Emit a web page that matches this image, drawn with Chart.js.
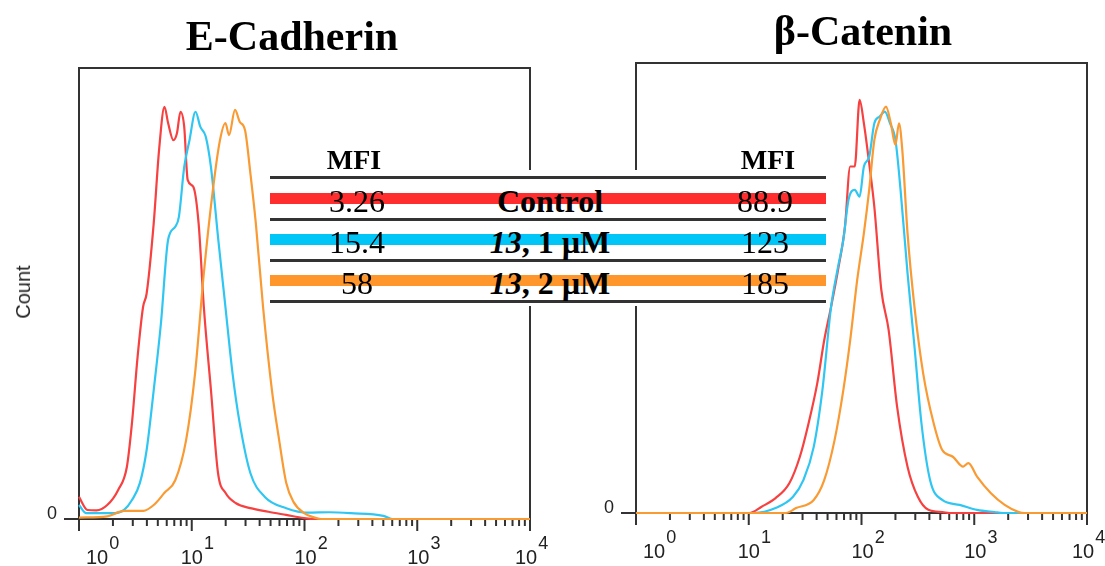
<!DOCTYPE html>
<html><head><meta charset="utf-8">
<script src="https://cdn.jsdelivr.net/npm/chart.js@4.4.1/dist/chart.umd.min.js"></script>
<style>
html,body{margin:0;padding:0;background:#fff;}
body{width:1105px;height:566px;position:relative;overflow:hidden;}
canvas{position:absolute;left:0;top:0;}
.t{position:absolute;white-space:nowrap;line-height:1;color:#000;}
.sans{font-family:"Liberation Sans",Arial,sans-serif;color:#222;}
.serif{font-family:"Liberation Serif","Times New Roman",serif;}
</style></head><body>
<canvas id="c1" width="1105" height="566"></canvas>
<canvas id="c2" width="1105" height="566"></canvas>
<div id="overlay"></div>
<script>
// ---------------- data ----------------
const panelTitles = ["E-Cadherin", "β-Catenin"];
const seriesNames = ["Control", "13, 1 µM", "13, 2 µM"];
const ecadMFI = ["3.26", "15.4", "58"];
const bcatMFI = ["88.9", "123", "185"];
const tickExponents = [0, 1, 2, 3, 4];
const yTickLabel = "0";
const yAxisTitle = "Count";

// E-Cadherin histograms (fluorescence, % of max count)
const ecadControlX = [1,1.19,1.43,1.78,2.22,2.66,2.95,3.31,3.70,3.98,4.60,5.13,5.73,6.17,6.87,7.40,7.94,8.57,9.20,10.3,11.5,12.8,14.8,17.1,19.9,24.7,33.1,47.8,68.7,99.1,126,10000];
const ecadControlY = [4.9,2.0,1.9,3.1,6.4,11.6,21.3,36,47,50,65.6,81.8,91.4,87.8,84,85.6,90.3,87,75.2,73.7,65.6,47,28.6,10.2,5.8,3.5,2.4,1.6,0.9,0.2,0,0];
const ecad1uMX = [1,1.16,1.55,2.09,2.51,2.95,3.47,3.98,4.60,5.33,6.17,7.14,7.69,8.57,9.55,10.8,11.9,13.3,14.8,17.2,19.9,23.0,26.6,33.1,44.5,68.9,107,166,257,501,600,10000];
const ecad1uMY = [3.1,1.3,1.3,1.3,2.0,4.2,8,15.3,28.6,43.4,61.9,64.8,67,78,84,90.3,87,84.8,78,61.9,47,32.3,21.3,10.2,4.9,2.4,1.4,1.5,1.3,0.7,0,0];
const ecad2uMX = [1,1.78,2.51,3.72,4.60,5.73,7.14,8.91,10.7,12.8,15.4,17.8,19.9,21.4,24.2,26.6,29.7,33.1,37.0,42.9,51.4,59.6,68.9,79.8,99.3,123,140,10000];
const ecad2uMY = [0.3,0.6,1.8,1.8,3.1,5.8,8.6,17.5,32.3,54.5,73,84,87.8,85.1,90.7,88.1,86.2,76.7,65.6,47,28.6,17.5,8,3.8,1.3,0.3,0,0];

// beta-Catenin histograms
const bcatControlX = [1,10.1,13.0,17.3,22.9,28.4,33.9,40.5,46.7,53.7,61.9,71.3,79.4,87.1,96.2,105,117,130,150,174,207,256,316,392,525,600,10000];
const bcatControlY = [0,0,1.4,3.3,6.6,12.5,19.9,28.8,38.4,45.8,54,63.6,77,77,91.8,86.6,77.7,68,49.5,40.7,23.6,10.3,3.6,0.7,0.2,0,0];
const bcat1uMX = [1,11.0,17.3,24.7,30.5,37.7,45.0,53.7,61.9,69.0,76.7,87.1,96.2,105,117,130,145,161,179,200,222,256,295,340,406,520,743,1059,1514,1800,10000];
const bcat1uMY = [0,0,1.1,3.6,7.3,14.7,27.3,45.8,54.7,60.7,69.6,71.8,70.3,77,79.2,86.6,88.1,89.2,86.6,82.9,71.8,53.3,37,20,7.3,2.9,1.8,0.7,0.2,0,0];
const bcat2uMX = [1,21.4,26.3,37.7,46.7,57.7,69.0,79.4,91.6,105,117,130,145,165,182,200,215,230,256,295,352,436,520,646,798,887,1059,1406,1862,2483,2800,10000];
const bcat2uMY = [0,0,1.1,2.9,7.3,16.2,27.3,38.4,51.8,62.2,71.8,82.9,87.3,90.3,86.6,81.8,86.6,80.7,62.2,45.8,31.1,20,14,12.5,10.3,11.1,8.1,4.4,1.8,0.2,0,0];

const curveColors = ["#f74040", "#30c6f2", "#f99a33"];
const barColors = ["#ff2d2d", "#00c6f7", "#ff962c"];

// ---------------- helpers ----------------
const W = 1105, H = 566;
const overlay = document.getElementById('overlay');
function pts(xs, ys){ return xs.map((x,i)=>({x:x, y:ys[i]})); }
function addText(html, cx, baseline, cls, size, extra){
  const d = document.createElement('div');
  d.className = 't ' + cls;
  d.innerHTML = html;
  const k = cls.indexOf('serif') >= 0 && cls.indexOf('sans') < 0 ? 0.8375 : 0.8465;
  d.style.fontSize = size + 'px';
  d.style.top = (baseline - k*size) + 'px';
  d.style.left = cx + 'px';
  d.style.transform = 'translateX(-50%)';
  if (extra) Object.assign(d.style, extra);
  overlay.appendChild(d);
  return d;
}

const framePlugin = {
  id: 'flowFrame',
  beforeDatasetsDraw(chart){
    const {ctx, chartArea:a} = chart;
    const xs = chart.scales.x;
    ctx.save();
    ctx.strokeStyle = '#333';
    ctx.lineWidth = 2;
    ctx.strokeRect(a.left, a.top, a.right - a.left, a.bottom - a.top);
    ctx.beginPath();
    ctx.moveTo(a.left - 15, a.bottom);
    ctx.lineTo(a.right, a.bottom);
    for (let k = 0; k < 4; k++){
      for (let m = 1; m <= 9; m++){
        const x = xs.getPixelForValue(m*Math.pow(10,k));
        const len = m === 1 ? 12 : 7;
        ctx.moveTo(x, a.bottom); ctx.lineTo(x, a.bottom + len);
      }
    }
    const xe = xs.getPixelForValue(10000);
    ctx.moveTo(xe, a.bottom); ctx.lineTo(xe, a.bottom + 12);
    ctx.stroke();
    ctx.restore();
  }
};

function makePanel(id, area, series){
  return new Chart(document.getElementById(id), {
    type: 'line',
    data: {
      datasets: series.map((s,i)=>({
        label: seriesNames[i],
        data: s,
        borderColor: curveColors[i],
        borderWidth: 2.2,
        pointRadius: 0,
        fill: false,
        cubicInterpolationMode: 'monotone',
        clip: 4,
        order: 2 - i
      }))
    },
    options: {
      responsive: false,
      animation: false,
      devicePixelRatio: 1,
      layout: { padding: { left: area.l, top: area.t, right: W - area.r, bottom: H - area.b } },
      plugins: { legend: { display: false }, tooltip: { enabled: false } },
      scales: {
        x: { type: 'logarithmic', min: 1, max: 10000, display: false },
        y: { type: 'linear', min: 0, max: 100, display: false }
      }
    },
    plugins: [framePlugin]
  });
}

const left = makePanel('c1', {l:79, t:68, r:530, b:519},
  [pts(ecadControlX, ecadControlY), pts(ecad1uMX, ecad1uMY), pts(ecad2uMX, ecad2uMY)]);
const right = makePanel('c2', {l:636, t:63, r:1087, b:513},
  [pts(bcatControlX, bcatControlY), pts(bcat1uMX, bcat1uMY), pts(bcat2uMX, bcat2uMY)]);

// axis labels
const labelShift = [18, 0, 1, 1, -4];
[left, right].forEach((ch, p)=>{
  const xs = ch.scales.x, ys = ch.scales.y, a = ch.chartArea;
  tickExponents.forEach((e, i)=>{
    const cx = xs.getPixelForValue(Math.pow(10, e)) + labelShift[i];
    const d = document.createElement('div');
    d.className = 't sans';
    d.style.fontSize = '20px';
    d.style.left = (cx - 11.1) + 'px';
    d.style.top = (a.bottom + 45 - 0.8465*20) + 'px';
    d.innerHTML = '10<span style="font-size:18px;position:relative;top:-15px;margin-left:1px">' + e + '</span>';
    overlay.appendChild(d);
  });
  addText(yTickLabel, a.left - 27, ys.getPixelForValue(0), 'sans', 18);
});
// Count (rotated, centred at 23,292)
const cnt = document.createElement('div');
cnt.className = 't sans';
cnt.textContent = yAxisTitle;
Object.assign(cnt.style, {fontSize:'20px', left:'23px', top:'292px', transform:'translate(-50%,-50%) rotate(-90deg)', transformOrigin:'50% 50%'});
overlay.appendChild(cnt);

// titles
addText(panelTitles[0], 292, 50, 'serif', 42, {fontWeight: 'bold'});
addText(panelTitles[1], 863, 45, 'serif', 42, {fontWeight: 'bold'});

// MFI table
const tbl = document.createElement('div');
Object.assign(tbl.style, {position:'absolute', left:'270px', top:'170px', width:'556px', height:'136px', background:'#fff'});
overlay.appendChild(tbl);
[177, 219, 260, 301].forEach(c=>{
  const l = document.createElement('div');
  Object.assign(l.style, {position:'absolute', left:'0px', width:'556px', top:(c-170-1.5)+'px', height:'3px', background:'#333'});
  tbl.appendChild(l);
});
const rowCenters = [198, 239, 280];
rowCenters.forEach((c, i)=>{
  const b = document.createElement('div');
  Object.assign(b.style, {position:'absolute', left:'0px', width:'556px', top:(c-170-5.5)+'px', height:'11px', background:barColors[i]});
  tbl.appendChild(b);
});
addText('MFI', 354, 169, 'serif', 28, {fontWeight:'bold'});
addText('MFI', 768, 169, 'serif', 28, {fontWeight:'bold'});
rowCenters.forEach((c, i)=>{
  const bl = c + 14;
  addText(ecadMFI[i], 357, bl, 'serif', 32);
  addText(bcatMFI[i], 765, bl, 'serif', 32);
  const name = seriesNames[i].replace(/^13/, '<i>13</i>');
  addText(name, 550, bl, 'serif', 32, {fontWeight:'bold'});
});
</script>
</body></html>
